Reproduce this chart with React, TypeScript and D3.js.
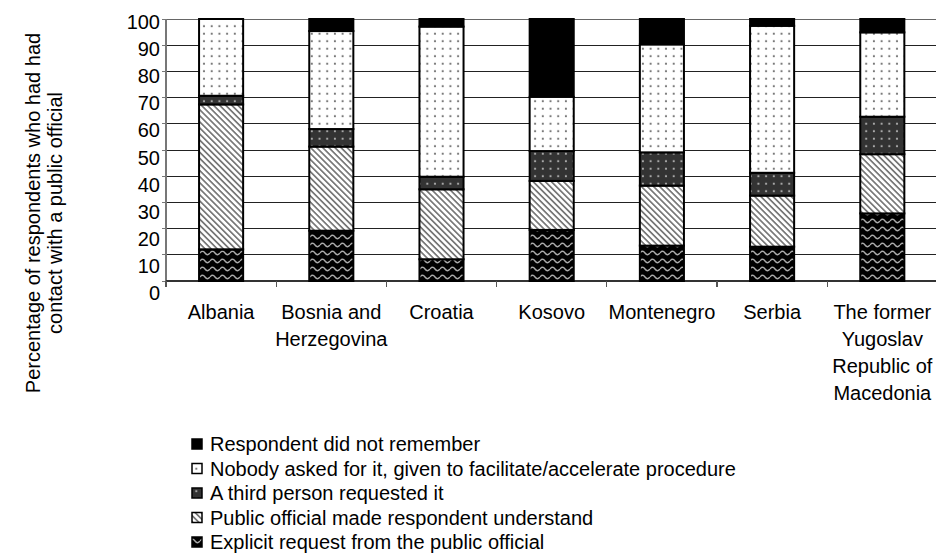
import React from "react";
import * as d3 from "d3";

const categories: string[][] = [
  ["Albania"],
  ["Bosnia and", "Herzegovina"],
  ["Croatia"],
  ["Kosovo"],
  ["Montenegro"],
  ["Serbia"],
  ["The former", "Yugoslav", "Republic of", "Macedonia"],
];

// series values (bottom to top)
const explicitRequest = [12.1, 19.2, 8.3, 19.5, 13.5, 13.1, 25.8];
const officialUnderstand = [55.3, 32.1, 26.7, 18.7, 22.9, 19.5, 22.6];
const thirdPerson = [3.3, 6.7, 4.8, 11.4, 12.7, 8.7, 14.3];
const nobodyAsked = [29.3, 37.4, 57.3, 20.7, 41.2, 56.1, 32.2];
const didNotRemember = [0, 4.6, 2.9, 29.7, 9.7, 2.6, 5.1];

const seriesNames = [
  "Explicit request from the public official",
  "Public official made respondent understand",
  "A third person requested it",
  "Nobody asked for it, given to facilitate/accelerate procedure",
  "Respondent did not remember",
];
const seriesValues = [explicitRequest, officialUnderstand, thirdPerson, nobodyAsked, didNotRemember];
const seriesFills = ["url(#pWave)", "url(#pDiag)", "url(#pDarkDots)", "url(#pDots)", "#000"];

const yTicks = [0, 10, 20, 30, 40, 50, 60, 70, 80, 90, 100];

const FONT = "'Liberation Sans', Arial, sans-serif";

export default function App() {
  const width = 936;
  const height = 560;
  const left = 166;
  const right = 937.4;
  const top = 19;
  const bottom = 281;

  const keys = categories.map((c) => c.join(" "));
  const x = d3.scaleBand<string>().domain(keys).range([left, right]).paddingInner(0.6).paddingOuter(0.3);
  const y = d3.scaleLinear().domain([0, 100]).range([bottom, top]);
  const yLabel = d3.scaleLinear().domain([0, 100]).range([293, 22]);

  const table = keys.map((k, i) => {
    const row: any = { key: k };
    seriesValues.forEach((s, j) => (row["s" + j] = s[i]));
    return row;
  });
  const stack = d3.stack<any>().keys(seriesValues.map((_, j) => "s" + j))(table);

  const step = x.step();
  const boundaries = keys.map((k) => (x(k) as number) - (step * 0.6) / 2);

  const legendOrder = [4, 3, 2, 1, 0];
  const legendY = d3.scalePoint<number>().domain([0, 1, 2, 3, 4]).range([444, 542]);

  const wave = "M0,5 Q2.5,1.5 5,5 T10,5";

  return (
    <svg
      width={width}
      height={height}
      style={{ position: "absolute", left: 0, top: 0, background: "#fff" }}
      fontFamily={FONT}
    >
      <defs>
        <pattern id="pDots" patternUnits="userSpaceOnUse" width={7.7} height={7.5}>
          <rect width={7.7} height={7.5} fill="#fff" />
          <circle cx={3.8} cy={3.7} r={1.1} fill="#777" />
        </pattern>
        <pattern id="pDarkDots" patternUnits="userSpaceOnUse" width={7.7} height={7.5}>
          <rect width={7.7} height={7.5} fill="#333" />
          <circle cx={3.8} cy={3.7} r={1.1} fill="#aaa" />
        </pattern>
        <pattern id="pDiag" patternUnits="userSpaceOnUse" width={8} height={4.3} patternTransform="rotate(45)">
          <rect width={8} height={4.3} fill="#fff" />
          <rect y={0} width={8} height={1.7} fill="#777" />
        </pattern>
        <pattern id="pWave" patternUnits="userSpaceOnUse" width={10} height={8}>
          <rect width={10} height={8} fill="#000" />
          <path d={wave} fill="none" stroke="#aaa" strokeWidth={1.4} />
        </pattern>
      </defs>

      {/* gridlines */}
      {yTicks.map((t) => (
        <line
          key={"g" + t}
          x1={left}
          x2={right}
          y1={y(t)}
          y2={y(t)}
          stroke={t === 100 ? "#666" : "#222"}
          strokeWidth={1}
          shapeRendering="crispEdges"
        />
      ))}

      {/* y axis */}
      <line x1={left} x2={left} y1={top} y2={bottom + 5} stroke="#777" strokeWidth={1.5} shapeRendering="crispEdges" />
      {yTicks.map((t) => (
        <line key={"yt" + t} x1={left - 4} x2={left} y1={y(t)} y2={y(t)} stroke="#777" strokeWidth={1} shapeRendering="crispEdges" />
      ))}
      {yTicks.map((t) => (
        <text key={"yl" + t} x={160} y={yLabel(t)} dy="0.35em" textAnchor="end" fontSize={20} fill="#000">
          {t}
        </text>
      ))}

      {/* x axis */}
      <line x1={left} x2={right} y1={bottom} y2={bottom} stroke="#333" strokeWidth={1.5} shapeRendering="crispEdges" />
      {boundaries.map((b, i) => (
        <line key={"xt" + i} x1={b} x2={b} y1={bottom} y2={bottom + 6} stroke="#555" strokeWidth={1.2} shapeRendering="crispEdges" />
      ))}

      {/* bars */}
      {stack.map((layer, j) => (
        <g key={"s" + j}>
          {layer.map((d, i) => {
            const h = y(d[0]) - y(d[1]);
            if (h <= 0) return null;
            return (
              <rect
                key={i}
                x={x(keys[i])}
                y={y(d[1])}
                width={x.bandwidth()}
                height={h}
                fill={seriesFills[j]}
                stroke="#000"
                strokeWidth={2}
              />
            );
          })}
        </g>
      ))}

      {/* category labels */}
      {categories.map((lines, i) => (
        <text
          key={"c" + i}
          x={(x(keys[i]) as number) + x.bandwidth() / 2}
          y={319}
          textAnchor="middle"
          fontSize={20}
          fill="#000"
        >
          {lines.map((l, li) => (
            <tspan key={li} x={(x(keys[i]) as number) + x.bandwidth() / 2} dy={li === 0 ? 0 : 27}>
              {l}
            </tspan>
          ))}
        </text>
      ))}

      {/* y axis title */}
      <text transform="translate(40,213) rotate(-90)" textAnchor="middle" fontSize={20} fill="#000">
        <tspan x={0} dy={0}>Percentage of respondents who had had</tspan>
        <tspan x={0} dy={22}>contact with a public official</tspan>
      </text>

      {/* legend */}
      {legendOrder.map((j, r) => {
        const cy = legendY(r) as number;
        return (
          <g key={"lg" + j}>
            <rect x={192} y={cy - 5} width={10} height={10} fill={seriesFills[j]} stroke="#000" strokeWidth={1.5} />
            <text x={210} y={cy} dy="0.35em" fontSize={20} fill="#000">
              {seriesNames[j]}
            </text>
          </g>
        );
      })}
    </svg>
  );
}
